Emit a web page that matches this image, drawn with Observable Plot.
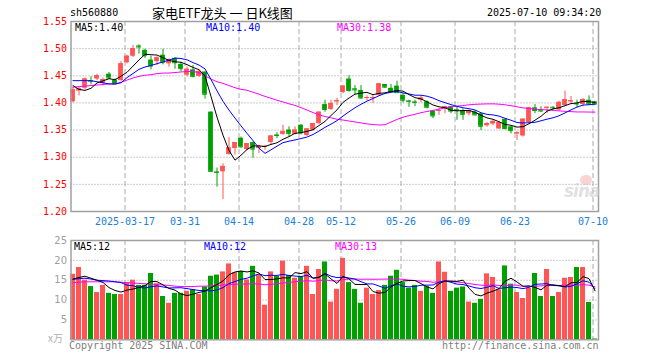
<!DOCTYPE html>
<html><head><meta charset="utf-8">
<script src="https://cdn.jsdelivr.net/npm/d3@7"></script>
<script src="https://cdn.jsdelivr.net/npm/@observablehq/plot@0.6"></script>
<style>
body{margin:0;background:#fff;}
#root{position:relative;width:660px;height:360px;overflow:hidden;font-family:"DejaVu Sans Mono",monospace;font-size:10px;line-height:10px;}
.t{position:absolute;white-space:nowrap;line-height:10px;}
#price,#vol{position:absolute;left:0;}
#price{top:0}
#vol{top:232px}
#wm{position:absolute;left:564px;top:186px;font-family:"DejaVu Sans",sans-serif;font-style:italic;font-weight:bold;font-size:17px;color:rgba(200,200,200,0.55);letter-spacing:-1px;}
#wmeye{position:absolute;left:580px;top:175px;width:12px;height:10px;border-radius:50%;background:rgba(240,130,130,0.35);}
</style></head><body>
<div id="root">
<div id="price"></div><div id="vol"></div>
<div id="wmeye"></div><div id="wm">sina</div>
<div class="t" id="code" style="left:70px;top:8px;color:#000"></div>
<div class="t" id="title" style="left:152px;top:6px;font-family:'Noto Sans CJK SC',sans-serif;font-size:13px;line-height:13px;color:#000"></div>
<div class="t" id="stamp" style="left:487px;top:8px;color:#000"></div>
<div class="t" id="pma5" style="left:75px;top:23px;color:#000"></div>
<div class="t" id="pma10" style="left:206px;top:23px;color:#00f"></div>
<div class="t" id="pma30" style="left:337px;top:23px;color:#f0f"></div>
<div class="t" id="vma5" style="left:74px;top:242px;color:#000"></div>
<div class="t" id="vma10" style="left:204px;top:242px;color:#00f"></div>
<div class="t" id="vma30" style="left:335px;top:242px;color:#f0f"></div>
<div class="t" id="unit" style="left:48px;top:333px;color:#b0b0b0;font-family:'Noto Sans CJK SC',sans-serif;"></div>
<div class="t" id="copy" style="left:69px;top:341px;color:#808080"></div>
<div class="t" id="url" style="left:442px;top:341px;color:#808080"></div>
</div>
<script>
const code = "sh560880";
const title = "家电ETF龙头 一 日K线图";
const stamp = "2025-07-10 09:34:20";
const priceMaLabels = ["MA5:1.40", "MA10:1.40", "MA30:1.38"];
const volMaLabels = ["MA5:12", "MA10:12", "MA30:13"];
const unitLabel = "x万";
const copyText = "Copyright 2025 SINA.COM";
const urlText = "http://finance.sina.com.cn";

const dates = [
"2025-03-04","2025-03-05","2025-03-06","2025-03-07","2025-03-10","2025-03-11","2025-03-12","2025-03-13","2025-03-14","2025-03-17",
"2025-03-18","2025-03-19","2025-03-20","2025-03-21","2025-03-24","2025-03-25","2025-03-26","2025-03-27","2025-03-28","2025-03-31",
"2025-04-01","2025-04-02","2025-04-03","2025-04-07","2025-04-08","2025-04-09","2025-04-10","2025-04-11","2025-04-14","2025-04-15",
"2025-04-16","2025-04-17","2025-04-18","2025-04-21","2025-04-22","2025-04-23","2025-04-24","2025-04-25","2025-04-28","2025-04-29",
"2025-04-30","2025-05-06","2025-05-07","2025-05-08","2025-05-09","2025-05-12","2025-05-13","2025-05-14","2025-05-15","2025-05-16",
"2025-05-19","2025-05-20","2025-05-21","2025-05-22","2025-05-23","2025-05-26","2025-05-27","2025-05-28","2025-05-29","2025-05-30",
"2025-06-03","2025-06-04","2025-06-05","2025-06-06","2025-06-09","2025-06-10","2025-06-11","2025-06-12","2025-06-13","2025-06-16",
"2025-06-17","2025-06-18","2025-06-19","2025-06-20","2025-06-23","2025-06-24","2025-06-25","2025-06-26","2025-06-27","2025-06-30",
"2025-07-01","2025-07-02","2025-07-03","2025-07-04","2025-07-07","2025-07-08","2025-07-09","2025-07-10"];

const open = [1.402,1.422,1.427,1.441,1.444,1.436,1.453,1.442,1.441,1.474,
1.486,1.505,1.497,1.479,1.476,1.488,1.472,1.482,1.471,1.451,
1.461,1.449,1.457,1.383,1.273,1.273,1.305,1.316,1.335,1.314,
1.327,1.316,1.318,1.327,1.341,1.342,1.350,1.342,1.359,1.340,
1.350,1.362,1.397,1.388,1.402,1.419,1.444,1.426,1.423,1.409,
1.409,1.414,1.434,1.427,1.431,1.414,1.404,1.402,1.405,1.402,
1.385,1.385,1.389,1.393,1.388,1.386,1.380,1.383,1.380,1.358,
1.361,1.352,1.370,1.356,1.343,1.339,1.364,1.391,1.387,1.390,
1.392,1.387,1.395,1.402,1.399,1.397,1.405,1.402];
const high = [1.430,1.429,1.446,1.448,1.453,1.446,1.456,1.444,1.476,1.488,
1.506,1.507,1.499,1.486,1.485,1.499,1.481,1.483,1.475,1.466,
1.469,1.462,1.457,1.384,1.280,1.288,1.336,1.327,1.337,1.325,
1.328,1.322,1.322,1.340,1.345,1.359,1.356,1.356,1.360,1.352,
1.362,1.383,1.405,1.405,1.408,1.432,1.450,1.432,1.432,1.413,
1.414,1.436,1.434,1.434,1.440,1.417,1.405,1.405,1.412,1.404,
1.386,1.390,1.394,1.393,1.392,1.389,1.387,1.386,1.380,1.364,
1.368,1.365,1.370,1.356,1.347,1.371,1.392,1.397,1.393,1.392,
1.393,1.403,1.422,1.412,1.405,1.408,1.413,1.403];
const low = [1.400,1.413,1.424,1.433,1.441,1.431,1.444,1.434,1.440,1.472,
1.484,1.490,1.482,1.461,1.469,1.470,1.466,1.462,1.457,1.448,
1.446,1.447,1.407,1.272,1.245,1.222,1.304,1.304,1.317,1.312,
1.298,1.307,1.313,1.322,1.334,1.340,1.337,1.341,1.341,1.338,
1.348,1.360,1.383,1.386,1.395,1.417,1.420,1.414,1.407,1.404,
1.399,1.413,1.427,1.420,1.418,1.400,1.392,1.393,1.400,1.389,
1.371,1.377,1.380,1.380,1.368,1.368,1.376,1.376,1.349,1.355,
1.358,1.351,1.350,1.343,1.331,1.337,1.363,1.380,1.383,1.380,
1.385,1.385,1.394,1.398,1.391,1.393,1.397,1.396];
const close = [1.424,1.426,1.444,1.440,1.450,1.443,1.446,1.435,1.472,1.486,
1.500,1.503,1.487,1.468,1.483,1.475,1.479,1.474,1.463,1.462,
1.449,1.458,1.416,1.274,1.272,1.283,1.317,1.327,1.319,1.325,
1.315,1.319,1.320,1.339,1.340,1.347,1.344,1.350,1.345,1.352,
1.362,1.383,1.388,1.399,1.404,1.431,1.423,1.424,1.409,1.410,
1.410,1.435,1.429,1.421,1.419,1.405,1.403,1.401,1.409,1.392,
1.376,1.386,1.393,1.385,1.387,1.379,1.386,1.378,1.357,1.362,
1.366,1.364,1.353,1.349,1.345,1.370,1.391,1.386,1.385,1.392,
1.391,1.401,1.406,1.404,1.398,1.406,1.398,1.398];
const volume = [16.5,18.2,15.0,13.4,11.9,13.7,11.7,11.4,11.4,14.4,
15.0,13.7,13.7,16.7,14.1,10.9,9.2,11.7,11.7,12.2,
12.6,11.4,13.3,16.0,16.3,17.1,19.1,16.9,17.2,15.1,
18.5,16.4,8.7,17.1,16.0,19.8,16.2,15.5,15.8,18.5,
11.4,17.7,19.6,9.5,12.7,20.5,14.4,12.7,9.2,13.0,
11.4,12.4,13.7,16.0,17.5,14.4,13.0,13.7,12.2,13.4,
11.7,19.6,17.0,12.2,13.0,13.3,9.5,9.2,10.2,16.6,
15.7,12.6,18.6,14.0,11.9,10.4,13.0,16.7,10.9,17.7,
10.9,11.9,15.5,15.7,18.2,18.2,9.4,0.2];

// moving-average values before a full window is available
const priceMA5Head = [1.432,1.425,1.423,1.427];
const priceMA10Head = [1.441,1.441,1.441,1.441,1.439,1.437,1.435,1.435,1.437];
const priceMA30Head = [1.429,1.430,1.431,1.432,1.433,1.434,1.435,1.435,1.438,1.442,1.446,1.449,1.451,1.452,1.454,1.455,1.455,1.456,1.457,1.458,1.458,1.456,1.450,1.444,1.439,1.436,1.432,1.428,1.425];
const volMA5Head = [15.3,15.7,16.0,15.5];
const volMA10Head = [15.2,15.4,15.5,15.3,15.0,14.9,14.8,14.6,14.4];
const volMA30Head = [14.4,14.5,14.6,14.6,14.6,14.6,14.6,14.6,14.5,14.4,14.3,14.2,14.1,14.0,13.9,13.8,13.7,13.5,13.4,13.4,13.4,13.5,13.5,13.6,13.7,13.8,13.9,14.0,14.0];

const tickDates = ["2025-03-17","2025-03-31","2025-04-14","2025-04-28","2025-05-12","2025-05-26","2025-06-09","2025-06-23","2025-07-10"];
const tickLabels = ["2025-03-17","03-31","04-14","04-28","05-12","05-26","06-09","06-23","07-10"];
const priceTicks = [1.20,1.25,1.30,1.35,1.40,1.45,1.50,1.55];
const priceGrid = [1.25,1.30,1.35,1.40,1.45,1.50];
const volTicks = [5,10,15,20,25];
const volGrid = [5,10,15,20];

const RED = "#ff5555", GREEN = "#00a000";

function ma(values, k, head) {
  return values.map((v, i) => i < k - 1 ? head[i] : d3.mean(values.slice(i - k + 1, i + 1)));
}
const data = dates.map((d, i) => ({i, date: d, open: open[i], high: high[i], low: low[i], close: close[i], volume: volume[i],
  up: close[i] >= open[i]}));
const pMA5 = ma(close, 5, priceMA5Head), pMA10 = ma(close, 10, priceMA10Head), pMA30 = ma(close, 30, priceMA30Head);
const vMA5 = ma(volume, 5, volMA5Head), vMA10 = ma(volume, 10, volMA10Head), vMA30 = ma(volume, 30, volMA30Head);
const ticks = tickDates.map((d, k) => ({i: dates.indexOf(d), label: tickLabels[k]}));
const col = d => d.up ? RED : GREEN;
const xdom = [-1/3, 87 + 7/12];
const mono = {fontFamily: "DejaVu Sans Mono, monospace", fontSize: "10px", background: "transparent", overflow: "visible"};

const lineMarks = (arrs) => arrs.map(([arr, c]) => Plot.line(arr, {x: (d, i) => i, y: d => d, stroke: c, strokeWidth: 1}));

const price = Plot.plot({
  width: 660, height: 232,
  marginLeft: 70.5, marginRight: 62, marginTop: 21, marginBottom: 21,
  x: {domain: xdom, axis: null},
  y: {domain: [1.20, 1.55], axis: null},
  style: mono,
  marks: [
    Plot.ruleY(priceGrid, {stroke: "#999", strokeDasharray: "1,2"}),
    Plot.ruleX(ticks, {x: "i", dx: -2, stroke: "#aaa", strokeDasharray: "5,3"}),
    Plot.axisY(priceTicks, {tickSize: 0, tickPadding: 4, fill: "#ff0000", tickFormat: d => d.toFixed(2), label: null}),
    Plot.text(ticks, {x: "i", text: "label", frameAnchor: "bottom", lineAnchor: "middle", dy: 10, dx: -2, fill: "#1a80d8"}),
    Plot.ruleX(data, {x: "i", y1: "low", y2: "high", stroke: col}),
    Plot.rect(data, {x1: d => d.i - 0.4, x2: d => d.i + 0.4, y1: "open", y2: "close", fill: col}),
    Plot.ruleY(data, {x1: d => d.i - 0.4, x2: d => d.i + 0.4, y: "close", stroke: col}),
    ...lineMarks([[pMA30, "#ff00ff"], [pMA10, "#0000ff"], [pMA5, "#000000"]]),
    Plot.frame({stroke: "#a0a0a0", strokeWidth: 1.5})
  ]
});
document.getElementById("price").appendChild(price);

const vol = Plot.plot({
  width: 660, height: 128,
  marginLeft: 70.5, marginRight: 62, marginTop: 8, marginBottom: 20.7,
  x: {domain: xdom, axis: null},
  y: {domain: [0, 25], axis: null},
  style: mono,
  marks: [
    Plot.ruleY(volGrid, {stroke: "#999", strokeDasharray: "1,2"}),
    Plot.ruleX(ticks, {x: "i", dx: -2, stroke: "#aaa", strokeDasharray: "5,3"}),
    Plot.axisY(volTicks, {tickSize: 0, tickPadding: 4, fill: "#a0a0a0", fontFamily: "DejaVu Sans, sans-serif", label: null}),
    Plot.rect(data, {x1: d => d.i - 0.42, x2: d => d.i + 0.42, y1: 0, y2: "volume", fill: col}),
    ...lineMarks([[vMA30, "#ff00ff"], [vMA10, "#0000ff"], [vMA5, "#000000"]]),
    Plot.frame({stroke: "#a0a0a0", strokeWidth: 1.5})
  ]
});
document.getElementById("vol").appendChild(vol);

const setT = (id, t) => document.getElementById(id).textContent = t;
setT("code", code); setT("title", title); setT("stamp", stamp);
setT("pma5", priceMaLabels[0]); setT("pma10", priceMaLabels[1]); setT("pma30", priceMaLabels[2]);
setT("vma5", volMaLabels[0]); setT("vma10", volMaLabels[1]); setT("vma30", volMaLabels[2]);
setT("unit", unitLabel); setT("copy", copyText); setT("url", urlText);
</script>
</body></html>
